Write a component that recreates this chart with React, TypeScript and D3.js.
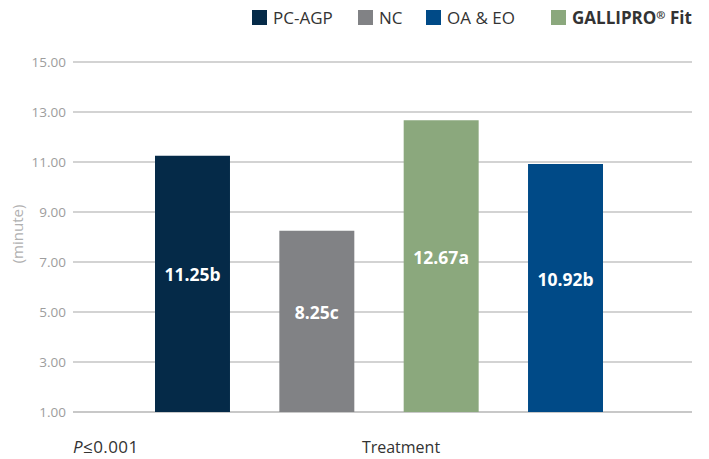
import React from "react";
import * as d3 from "d3";

const categories = ["PC-AGP", "NC", "GALLIPRO® Fit", "OA & EO"];
const values = [11.25, 8.25, 12.67, 10.92];
const letters = ["b", "c", "a", "b"];
const colors = ["#052a48", "#818285", "#8ba87d", "#004a87"];
const yTicks = [1, 3, 5, 7, 9, 11, 13, 15];
const legendItems = ["PC-AGP", "NC", "OA & EO", "GALLIPRO® Fit"];
const legendColors = ["#052a48", "#818285", "#004a87", "#8ba87d"];
const legendX = [252, 358, 426, 551];

const W = 709;
const H = 459;
const font = "'Open Sans', 'Noto Sans', sans-serif";

export default function App() {
  const y = d3.scaleLinear().domain([1, 15]).range([412, 62]);
  const x = d3.scaleBand<string>().domain(categories).range([155, 603]).paddingInner(0.397).paddingOuter(0);
  const gridX0 = 73;
  const gridX1 = 692;

  return (
    <svg width={W} height={H} style={{ position: "absolute", left: 0, top: 0, display: "block", background: "#fff" }}>
      {yTicks.map((t) => (
        <g key={t}>
          <line
            x1={gridX0}
            x2={gridX1}
            y1={y(t)}
            y2={y(t)}
            stroke={t === 1 ? "#c8c8c8" : "#a8a8a8"}
            strokeWidth={t === 1 ? 2 : 1.2}
          />
          <text x={66} y={y(t)} dy="0.35em" textAnchor="end" fontFamily={font} fontSize={13.5} fill="#9d9d9d">
            {t.toFixed(2)}
          </text>
        </g>
      ))}
      <text
        transform={`translate(18,${234}) rotate(-90)`}
        textAnchor="middle"
        dy="0.35em"
        fontFamily={font}
        fontSize={15}
        fill="#b0b0b0"
      >
        (minute)
      </text>
      {categories.map((c, i) => {
        const x0 = x(c)!;
        const top = y(values[i]);
        const bottom = y(1);
        const mid = (top + bottom) / 2;
        return (
          <g key={c}>
            <rect x={x0} y={top} width={x.bandwidth()} height={bottom - top} fill={colors[i]} />
            <text
              x={x0 + x.bandwidth() / 2}
              y={mid - 2.5}
              textAnchor="middle"
              fontFamily={font}
              fontWeight={700}
              fontSize={17.5}
              fill="#ffffff"
            >
              {values[i].toFixed(2)}
              {letters[i]}
            </text>
          </g>
        );
      })}
      {legendItems.map((l, i) => (
        <g key={l}>
          <rect x={legendX[i]} y={10} width={15} height={15} fill={legendColors[i]} />
          <text
            x={legendX[i] + 21}
            y={24}
            fontFamily={font}
            fontSize={17}
            fontWeight={i === 3 ? 700 : 400}
            fill="#333333"
          >
            {i === 3 ? (
              <>
                GALLIPRO<tspan fontSize={11} dy={-5}>®</tspan>
                <tspan dy={5}> Fit</tspan>
              </>
            ) : (
              l
            )}
          </text>
        </g>
      ))}
      <text x={73} y={453} fontFamily={font} fontSize={17} letterSpacing={0.4} fill="#333333">
        <tspan fontStyle="italic">P</tspan>≤0.001
      </text>
      <text x={401} y={453} textAnchor="middle" fontFamily={font} fontSize={16} fill="#333333">
        Treatment
      </text>
    </svg>
  );
}
